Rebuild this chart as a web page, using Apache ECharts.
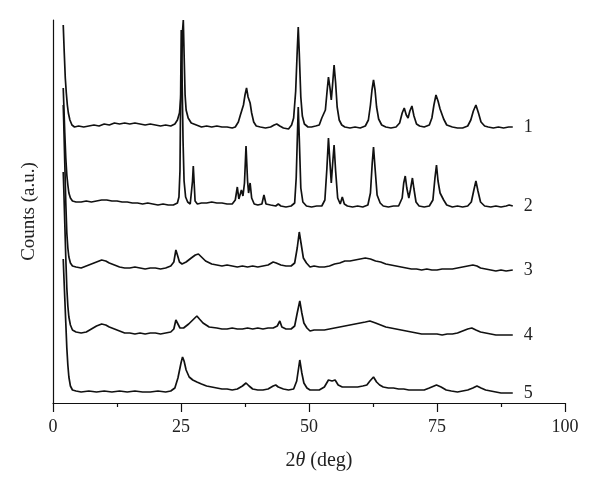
<!DOCTYPE html>
<html>
<head>
<meta charset="utf-8">
<script src="https://cdn.jsdelivr.net/npm/echarts@6/dist/echarts.min.js"></script>
<style>html,body{margin:0;padding:0;background:#fff}#c{width:600px;height:492px}</style>
</head>
<body>
<div id="c"></div>
<script>
// x tick labels
const xTicks = [0, 25, 50, 75, 100];
const seriesNames = ['1', '2', '3', '4', '5'];
// Each pattern: [2theta (deg), counts (a.u., stacked offset included)]
const pattern1 = [[2.0,378],[2.2,350],[2.4,325],[2.6,310],[2.8,298],[3.0,290],[3.3,283],[3.7,278],[4.2,276],[5,277],[6,276],[7,277],[8,278],[9,277],[10,279],[11,278],[12,280],[13,279],[14,280],[15,279],[16,280],[17,279],[18,278],[19,279],[20,278],[21,277],[22,278],[23,277],[23.8,279],[24.3,283],[24.7,290],[24.95,305],[25.15,340],[25.3,372],[25.45,383],[25.6,350],[25.8,308],[26.0,293],[26.4,285],[27.0,280],[28,278],[29,276],[30,277],[31,276],[32,277],[33,276],[34,276],[35,275],[35.6,276],[36.2,281],[36.6,288],[36.9,293],[37.2,298],[37.5,308],[37.8,315],[38.1,306],[38.5,300],[38.8,290],[39.2,281],[39.7,277],[40.5,276],[41.5,275],[42.5,276],[43.2,278],[43.7,279],[44.3,277],[45,275],[46,274],[46.6,278],[47.0,285],[47.4,312],[47.7,352],[47.9,376],[48.1,350],[48.4,306],[48.7,287],[49.1,279],[49.8,276],[50.5,276],[51.3,277],[52.0,278],[52.5,285],[52.8,284],[53.2,293],[53.5,310],[53.8,326],[54.1,315],[54.35,303],[54.6,318],[54.9,338],[55.2,320],[55.5,296],[55.9,283],[56.4,278],[57,276],[58,275],[59,276],[60,275],[61,277],[61.6,283],[62.0,298],[62.3,313],[62.6,323],[62.9,313],[63.2,296],[63.6,284],[64.2,278],[65,276],[66,275],[67,276],[67.7,280],[68.2,290],[68.6,295],[69.0,288],[69.35,285],[69.7,292],[70.1,297],[70.5,287],[71,279],[71.6,277],[72.5,276],[73.5,278],[74.0,285],[74.4,298],[74.8,308],[75.2,302],[75.6,294],[75.9,292],[76.3,284],[76.9,278],[78,276],[79,275],[80,275],[81,277],[81.6,283],[82.1,292],[82.6,298],[83.1,290],[83.6,281],[84.3,277],[85,276],[86,275],[87,276],[88,275],[89,276],[89.8,276]];
const pattern2 = [[2.0,315],[2.1,300],[2.3,270],[2.5,245],[2.7,228],[2.9,218],[3.1,210],[3.4,205],[3.8,202],[4.5,201],[5.5,201],[6.5,202],[7.5,201],[8.5,202],[9.5,203],[10.5,203],[11.5,202],[12.5,202],[13.5,201],[14.5,201],[15.5,200],[16.5,200],[17.5,199],[18.5,200],[19.5,199],[20.5,198],[21.5,199],[22.5,198],[23.5,198],[24.3,200],[24.6,206],[24.8,232],[24.95,320],[25.05,373],[25.2,330],[25.4,262],[25.6,222],[25.9,206],[26.3,201],[26.8,199],[27.1,201],[27.25,222],[27.4,237],[27.55,222],[27.75,202],[28.2,199],[29,200],[30,200],[31,201],[32,200],[33,200],[34,199],[35,199],[35.6,203],[36.0,216],[36.3,204],[36.55,205],[36.8,213],[37.1,207],[37.4,220],[37.7,257],[38.0,222],[38.2,210],[38.5,220],[38.8,205],[39.3,199],[40,198],[40.8,199],[41.2,208],[41.6,199],[42.5,198],[43.5,197],[44.0,199],[44.5,197],[45.5,196],[46.5,197],[47.2,200],[47.5,225],[47.75,270],[47.9,296],[48.1,265],[48.4,215],[48.8,201],[49.5,197],[50.5,196],[51.5,197],[52.5,197],[53.1,203],[53.5,235],[53.8,265],[54.1,240],[54.35,220],[54.6,238],[54.9,258],[55.2,232],[55.6,205],[56.1,199],[56.5,206],[56.9,199],[57.5,197],[58.5,196],[59.5,197],[60.5,196],[61.5,198],[62.0,210],[62.35,240],[62.6,256],[62.9,235],[63.3,208],[63.9,200],[64.5,197],[65.5,196],[66.5,197],[67.5,197],[68.2,205],[68.5,220],[68.8,227],[69.1,215],[69.5,205],[69.8,213],[70.2,225],[70.5,214],[70.9,201],[71.5,197],[72.5,196],[73.5,197],[74.2,203],[74.6,225],[74.9,238],[75.2,222],[75.6,210],[75.9,211],[76.3,203],[76.9,198],[78,196],[79,197],[80,196],[81,197],[81.7,201],[82.2,213],[82.6,222],[83.0,212],[83.5,201],[84.3,197],[85.5,196],[86.5,197],[87.5,196],[88.5,197],[89.1,198],[89.4,200],[89.8,197]];
const pattern3 = [[2.0,298],[2.1,280],[2.3,240],[2.5,200],[2.7,170],[2.9,155],[3.1,146],[3.4,140],[3.8,137],[4.5,136],[5.5,135],[6.5,137],[7.5,139],[8.5,141],[9.5,143],[10.3,142],[11,140],[12,138],[13,136],[14,135],[15,135],[16,136],[17,135],[18,134],[19,135],[20,135],[21,134],[22,135],[23,137],[23.6,141],[24.0,153],[24.3,148],[24.7,141],[25.2,139],[26,141],[27,145],[27.8,148],[28.4,149],[29,146],[29.8,142],[31,139],[32,138],[33,137],[34,138],[35,137],[36,136],[37,137],[38,136],[39,137],[40,136],[41,137],[42,138],[43,141],[43.6,140],[44.5,138],[45.5,137],[46.5,137],[47.2,140],[47.7,155],[48.1,171],[48.5,158],[48.9,145],[49.5,140],[50.2,136],[51,137],[52,136],[53,136],[54,137],[55,139],[56,140],[57,142],[58,142],[59,143],[60,144],[61,145],[62,144],[63,142],[64,141],[65,139],[66,138],[67,137],[68,136],[69,135],[70,134],[71,134],[72,133],[73,134],[74,133],[75,133],[76,134],[77,134],[78,134],[79,135],[80,136],[81,137],[82,138],[82.8,137],[83.5,135],[84.5,134],[85.5,133],[86.5,132],[87.5,133],[88.5,132],[89.8,133]];
const pattern4 = [[2.0,231],[2.1,215],[2.3,180],[2.5,145],[2.7,115],[2.9,97],[3.1,86],[3.4,78],[3.8,73],[4.5,71],[5.5,70],[6.5,71],[7.5,74],[8.5,77],[9.5,79],[10.3,78],[11,76],[12,74],[13,72],[14,70],[15,70],[16,69],[17,70],[18,69],[19,70],[20,70],[21,69],[22,70],[23,71],[23.6,74],[24.0,83],[24.4,79],[24.8,75],[25.5,75],[26.5,79],[27.5,84],[28.1,87],[28.6,84],[29.3,80],[30.5,76],[32,75],[33,74],[34,74],[35,75],[36,74],[37,74],[38,75],[39,74],[40,75],[41,74],[42,75],[43,75],[43.8,77],[44.3,82],[44.7,76],[45.5,74],[46.5,74],[47.2,77],[47.7,90],[48.2,102],[48.6,90],[49,80],[49.6,75],[50.2,72],[51,73],[52,73],[53,73],[54,74],[55,75],[56,76],[57,77],[58,78],[59,79],[60,80],[61,81],[61.9,82],[63,80],[64,78],[65,76],[66,75],[67,74],[68,73],[69,72],[70,71],[71,70],[72,69],[73,69],[74,69],[75,69],[76,68],[77,69],[78,69],[79,70],[80,72],[81,74],[81.8,75],[82.6,73],[83.5,71],[84.5,70],[85.5,69],[86.5,68],[87.5,68],[88.5,68],[89.8,68]];
const pattern5 = [[2.0,144],[2.1,130],[2.3,105],[2.5,80],[2.7,55],[2.9,38],[3.1,26],[3.4,17],[3.8,13],[4.5,12],[5.5,11],[7,12],[8.5,11],[10,12],[11.5,11],[13,12],[14.5,11],[16,12],[17.5,11],[19,11],[20.5,12],[22,11],[23,12],[23.8,15],[24.4,25],[25.0,40],[25.3,46],[25.6,42],[26.0,33],[26.6,26],[27.3,23],[28.1,21],[29,19],[30,17],[31,16],[32,15],[33,14],[34,14],[35,13],[36,14],[37,17],[37.7,20],[38.3,17],[39,14],[40,13],[41,13],[42,14],[43,17],[43.5,18],[44,16],[45,14],[46,13],[47,14],[47.6,22],[48.2,43],[48.6,30],[49,20],[49.6,15],[50.2,13],[51,13],[52,13],[53,16],[53.8,23],[54.5,22],[55.1,23],[55.7,18],[56.5,16],[57.5,16],[58.5,16],[59.5,16],[60.5,17],[61.3,18],[61.9,22],[62.6,26],[63.2,21],[63.8,18],[64.5,16],[65.5,15],[66.5,15],[67.5,14],[68.5,14],[69.5,13],[70.5,13],[71.5,13],[72.5,13],[73.5,15],[74.9,18],[75.8,16],[76.8,13],[77.8,12],[79,11],[80,12],[81,13],[82,15],[82.8,17],[83.6,15],[84.5,13],[85.5,12],[86.5,11],[87.5,10],[88.5,10],[89.8,10]];

const patterns = [pattern1, pattern2, pattern3, pattern4, pattern5];
const FONT = '"Liberation Serif", "DejaVu Serif", serif';
const chart = echarts.init(document.getElementById('c'), null, {renderer: 'canvas'});
chart.setOption({
  backgroundColor: '#fff',
  animation: false,
  grid: {left: 53, right: 35, top: 20, bottom: 89},
  xAxis: {
    type: 'value', min: xTicks[0], max: xTicks[xTicks.length - 1], interval: 25,
    axisLine: {lineStyle: {color: '#111', width: 1.2}},
    axisTick: {inside: false, length: 9, lineStyle: {color: '#111', width: 1.2}},
    minorTick: {show: true, splitNumber: 2, length: 4, lineStyle: {color: '#111', width: 1.2}},
    splitLine: {show: false},
    axisLabel: {color: '#222', fontSize: 18, fontFamily: FONT, margin: 15},
    name: '2{i|θ} (deg)', nameLocation: 'middle', nameGap: 48,
    nameTextStyle: {color: '#222', fontSize: 20, fontFamily: FONT, padding: [0, 0, 0, 20],
      rich: {i: {fontStyle: 'italic', fontSize: 20, fontFamily: FONT, color: '#222'}}}
  },
  yAxis: {
    type: 'value', min: 0, max: 383,
    axisLine: {show: true, lineStyle: {color: '#111', width: 1.2}},
    axisTick: {show: false}, axisLabel: {show: false}, splitLine: {show: false},
    name: 'Counts (a.u.)', nameLocation: 'middle', nameGap: 14, nameRotate: 90,
    nameTextStyle: {color: '#222', fontSize: 19, fontFamily: FONT}
  },
  series: patterns.map((p, i) => ({
    name: seriesNames[i], type: 'line', data: p, showSymbol: false, symbol: 'none',
    lineStyle: {color: '#111', width: 1.7}, z: 5 - i,
    endLabel: {show: true, formatter: '{a}', distance: 11, fontSize: 18, fontFamily: FONT, color: '#222'}
  }))
});
</script>
</body>
</html>
